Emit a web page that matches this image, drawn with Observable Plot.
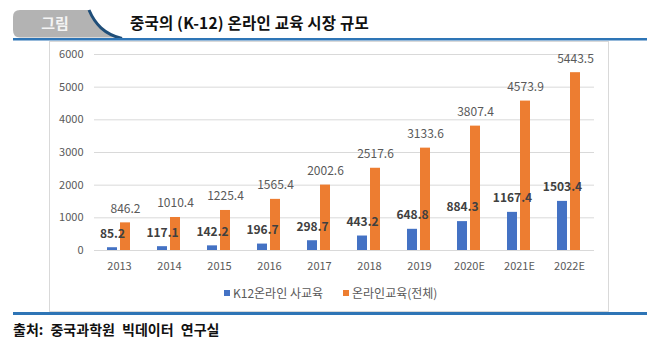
<!DOCTYPE html>
<html><head><meta charset="utf-8">
<script src="https://cdn.jsdelivr.net/npm/d3@7"></script>
<script src="https://cdn.jsdelivr.net/npm/@observablehq/plot@0.6"></script>
<style>
html,body{margin:0;padding:0;background:#fff;}
#root{position:relative;width:661px;height:342px;overflow:hidden;font-family:"Noto Sans CJK KR","Noto Sans",sans-serif;}
.abs{position:absolute;}
</style></head>
<body><div id="root"></div>
<script>
const titleText = "중국의 (K-12) 온라인 교육 시장 규모";
const tabText = "그림";
const sourceText = "출처: 중국과학원 빅데이터 연구실";
const years = ["2013","2014","2015","2016","2017","2018","2019","2020E","2021E","2022E"];
const seriesNames = ["K12온라인 사교육","온라인교육(전체)"];
const seriesColors = ["#4472c4","#ed7d31"];
const k12Values = [85.2,117.1,142.2,196.7,298.7,443.2,648.8,884.3,1167.4,1503.4];
const totalValues = [846.2,1010.4,1225.4,1565.4,2002.6,2517.6,3133.6,3807.4,4573.9,5443.5];
const yTicks = [0,1000,2000,3000,4000,5000,6000];

const root = document.getElementById("root");

// header
const hdr = document.createElementNS("http://www.w3.org/2000/svg","svg");
hdr.setAttribute("width",661); hdr.setAttribute("height",45);
hdr.setAttribute("class","abs"); hdr.style.left="0px"; hdr.style.top="0px";
hdr.innerHTML = `
<path d="M20,10 H90 C95,24 104,34 120,37.5 H20 Q13,37.5 13,30 V17 Q13,10 20,10 Z" fill="#b3b3b3"/>
<path d="M89,10 C95,24 104,34 122,38.5" fill="none" stroke="#1f4e79" stroke-width="3"/>
<text x="55" y="28.5" text-anchor="middle" fill="#f4f4f4" font-size="15" font-weight="bold" font-family="Noto Sans CJK KR">${tabText}</text>
<text x="130" y="28.5" fill="#111" font-size="15.5" font-weight="bold" letter-spacing="0.2" font-family="Noto Sans CJK KR">${titleText}</text>
<rect x="13" y="38" width="634" height="2.5" fill="#2e75b6"/>`;
root.appendChild(hdr);

// chart box
const box = document.createElement("div");
box.className="abs";
Object.assign(box.style,{left:"49px",top:"41px",width:"558px",height:"269px",border:"1px solid #d9d9d9",boxSizing:"content-box"});
root.appendChild(box);

const data = [];
years.forEach((y,i)=>{
  data.push({year:y, series:seriesNames[0], value:k12Values[i]});
  data.push({year:y, series:seriesNames[1], value:totalValues[i]});
});
const fmt = d3.format(".1f");

const chart = Plot.plot({
  width: 559, height: 242,
  marginLeft: 44, marginRight: 14, marginTop: 13, marginBottom: 33,
  style:{fontFamily:"Noto Sans CJK KR", fontSize:"11px", color:"#595959", background:"transparent", overflow:"visible"},
  fx:{domain: years, padding:0, label:null, tickSize:0, tickPadding:12},
  x:{domain: seriesNames, paddingInner:0.214, paddingOuter:0.9, axis:null},
  y:{domain:[0,6000], ticks:yTicks, tickSize:0, tickPadding:11, label:null, tickFormat:d=>String(d)},
  color:{domain:seriesNames, range:seriesColors},
  marks:[
    Plot.gridY(yTicks,{stroke:"#d9d9d9", strokeOpacity:1}),
    Plot.barY(data,{fx:"year", x:"series", y:"value", fill:"series"}),
    Plot.text(data.filter(d=>d.series===seriesNames[0]),{fx:"year", x:"series", y:"value", text:d=>fmt(d.value), dy:-14, fill:"#404040", fontWeight:"bold", fontSize:12}),
    Plot.text(data.filter(d=>d.series===seriesNames[1]),{fx:"year", x:"series", y:"value", text:d=>fmt(d.value), dy:-14, fill:"#595959", fontSize:12})
  ]
});
chart.classList.add("abs");
chart.style.left="49px"; chart.style.top="41px";
root.appendChild(chart);

// legend
const leg = document.createElement("div");
leg.className="abs";
Object.assign(leg.style,{left:"224px",top:"284px",fontSize:"12px",color:"#595959",whiteSpace:"nowrap",display:"flex",alignItems:"center"});
seriesNames.forEach((n,i)=>{
  const item=document.createElement("span");
  item.style.display="inline-flex"; item.style.alignItems="center";
  item.style.marginRight = i===0 ? "20px" : "0";
  item.innerHTML=`<span style="display:inline-block;width:6px;height:6px;background:${seriesColors[i]};margin-right:3px"></span>${n}`;
  leg.appendChild(item);
});
root.appendChild(leg);

// bottom line and source
const bl=document.createElement("div");
bl.className="abs";
Object.assign(bl.style,{left:"13px",top:"312px",width:"634px",height:"2.5px",background:"#2e75b6"});
root.appendChild(bl);
const src=document.createElement("div");
src.className="abs";
Object.assign(src.style,{left:"13px",top:"319px",fontSize:"14px",fontWeight:"bold",color:"#111",wordSpacing:"4px",whiteSpace:"nowrap"});
src.textContent=sourceText;
root.appendChild(src);
</script>
</body></html>
